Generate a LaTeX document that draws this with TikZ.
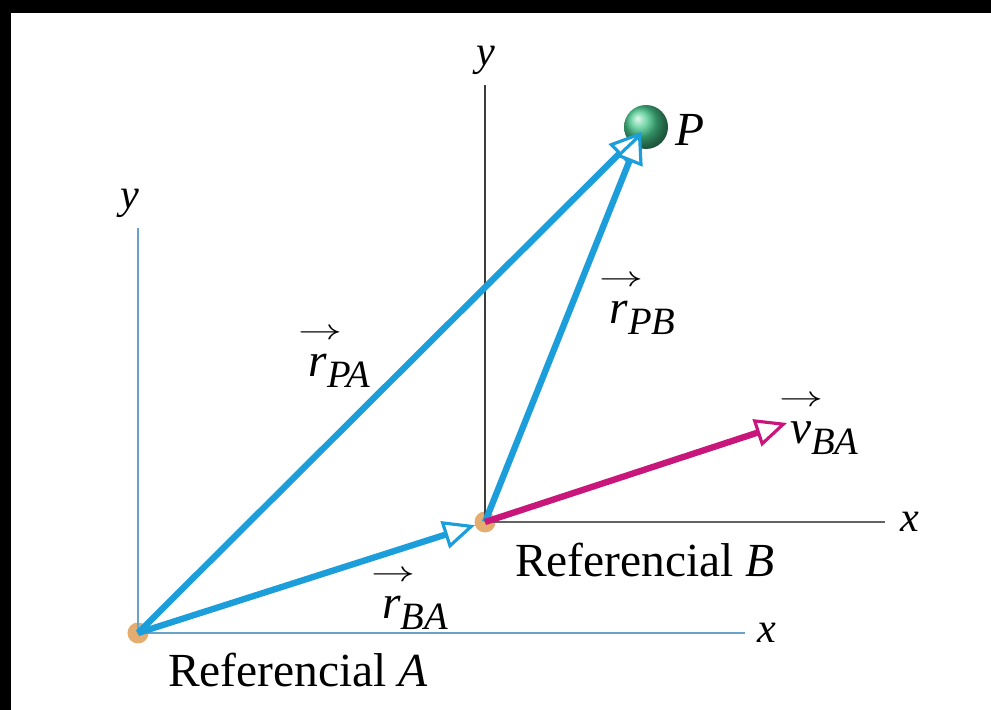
\documentclass[tikz,border=0pt]{standalone}
\usepackage{fontspec}
\setmainfont{Liberation Serif}
\usetikzlibrary{arrows.meta,shadings}
\definecolor{vecblue}{RGB}{28,158,218}
\definecolor{velmag}{RGB}{200,22,122}
\definecolor{axisA}{RGB}{105,162,200}
\definecolor{axisB}{RGB}{60,60,60}
\definecolor{origin}{RGB}{228,172,110}
\definecolor{ballgreen}{RGB}{70,200,140}
\newcommand{\vlabel}[2]{\makebox[0pt][l]{\hspace{-0.12em}\raisebox{0.78em}{\scalebox{1.35}[0.9]{$\scriptstyle\rightarrow$}}}\hspace{0.1em}\textit{#1}\raisebox{-0.5ex}{\fontsize{11}{13}\selectfont\textit{#2}}}
\begin{document}
\begin{tikzpicture}[x=0.01cm, y=0.01cm,
    every node/.style={font=\fontsize{13.5}{16}\selectfont, inner sep=1pt},
    axlabel/.style={font=\fontsize{12}{14}\selectfont\itshape},
    vec/.style={line width=1.8pt, draw=vecblue,
                -{Triangle[length=9pt, width=8pt, line width=0.9pt, fill=white]}},
    vel/.style={vec, draw=velmag},
    dot/.style={circle, fill=origin, minimum size=0.21cm, inner sep=0pt}]
  % frame
  \fill[black] (0,0) rectangle (991,710);
  \fill[white] (11,0) rectangle (991,697);
  \useasboundingbox (0,0) rectangle (991,710);
  % origins and axes
  \node[dot] (A) at (138,77) {};
  \node[dot] (B) at (485,188) {};
  \coordinate (Ay) at (138,482);
  \coordinate (Ax) at (745,77);
  \coordinate (By) at (485,625);
  \coordinate (Bx) at (885,188);
  \draw[axisA, line width=0.8pt] (Ay) -- (A.center) -- (Ax);
  \draw[axisB, line width=0.8pt] (By) -- (B.center);
  \draw[axisB!80, line width=0.8pt] (B.center) -- (Bx);
  \node[axlabel] (yA) at (130,507) {y};
  \node[axlabel] (xA) at (767,77) {x};
  \node[axlabel] (yB) at (486,650) {y};
  \node[axlabel] (xB) at (910,188) {x};
  % particle
  \shade[ball color=ballgreen] (646,583) circle (22);
  \coordinate (P) at (641,578);
  \node (Plab) at (690,580) {\textit{P}};
  \coordinate (V) at (787,287);
  % vectors
  \draw[vec] (A.center) -- (P);
  \draw[vec] (B.center) -- (P);
  \draw[vec, shorten >=3pt] (A.center) -- (B.center);
  \draw[vel] (B.center) -- (V);
  % labels
  \node (rPA) at (337,352) {\vlabel{r}{PA}};
  \node (rPB) at (640,405) {\vlabel{r}{PB}};
  \node (rBA) at (413,110) {\vlabel{r}{BA}};
  \node (vBA) at (822,285) {\vlabel{v}{BA}};
  \node (refB) at (645,150) {Referencial \textit{B}};
  \node (refA) at (298,40) {Referencial \textit{A}};
\end{tikzpicture}
\end{document}
